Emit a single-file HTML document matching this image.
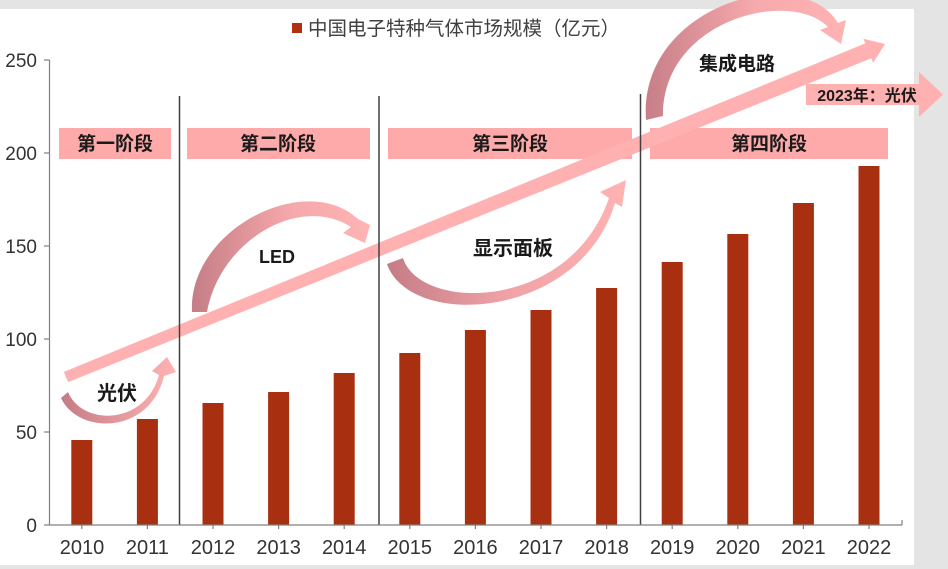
<!DOCTYPE html>
<html><head><meta charset="utf-8"><style>
html,body{margin:0;padding:0;background:#e4e4e4;}
svg{display:block;}
text{font-family:"Liberation Sans","Noto Sans CJK SC",sans-serif;}
</style></head><body>
<svg width="948" height="569" viewBox="0 0 948 569" xmlns="http://www.w3.org/2000/svg">
<defs>
<linearGradient id="g1" x1="60" y1="0" x2="175" y2="0" gradientUnits="userSpaceOnUse"><stop offset="0" stop-color="#c47c85"/><stop offset="1" stop-color="#ffb3b3"/></linearGradient>
<linearGradient id="g2" x1="190" y1="0" x2="370" y2="0" gradientUnits="userSpaceOnUse"><stop offset="0" stop-color="#c47c85"/><stop offset="0.55" stop-color="#f5a8ab"/><stop offset="1" stop-color="#ffb3b3"/></linearGradient>
<linearGradient id="g3" x1="385" y1="0" x2="630" y2="0" gradientUnits="userSpaceOnUse"><stop offset="0" stop-color="#c47c85"/><stop offset="0.5" stop-color="#f0a3a7"/><stop offset="1" stop-color="#ffb3b3"/></linearGradient>
<linearGradient id="g4" x1="640" y1="0" x2="850" y2="0" gradientUnits="userSpaceOnUse"><stop offset="0" stop-color="#c47c85"/><stop offset="0.55" stop-color="#f7aaad"/><stop offset="1" stop-color="#ffb3b3"/></linearGradient>
</defs>
<rect x="0" y="9" width="914" height="556" fill="#ffffff"/>

<!-- legend -->
<rect x="292" y="23" width="10" height="10" fill="#b3300f"/>
<text x="308" y="35" font-size="19.5" fill="#404040">中国电子特种气体市场规模（亿元）</text>

<!-- stage boxes -->
<g fill="#ffaaaa">
<rect x="59" y="128" width="112" height="31"/>
<rect x="187" y="128" width="183" height="31"/>
<rect x="388" y="128" width="244" height="31"/>
<rect x="650" y="128" width="238" height="31"/>
</g>
<g font-size="19" font-weight="bold" fill="#1a1a1a" text-anchor="middle">
<text x="115" y="150">第一阶段</text>
<text x="278" y="150">第二阶段</text>
<text x="510" y="150">第三阶段</text>
<text x="769" y="150">第四阶段</text>
</g>

<!-- bars -->
<g fill="#a83010">
<rect x="71.3" y="440" width="21" height="85"/>
<rect x="136.9" y="419" width="21" height="106"/>
<rect x="202.5" y="403" width="21" height="122"/>
<rect x="268.1" y="392" width="21" height="133"/>
<rect x="333.7" y="373" width="21" height="152"/>
<rect x="399.3" y="353" width="21" height="172"/>
<rect x="464.9" y="330" width="21" height="195"/>
<rect x="530.5" y="310" width="21" height="215"/>
<rect x="596.1" y="288" width="21" height="237"/>
<rect x="661.7" y="262" width="21" height="263"/>
<rect x="727.3" y="234" width="21" height="291"/>
<rect x="792.9" y="203" width="21" height="322"/>
<rect x="858.5" y="166" width="21" height="359"/>
</g>

<!-- main diagonal arrow -->
<polygon points="63.9,371.9 865.3,43.4 863.4,38.8 885,44 873.2,62.8 871.3,58.2 68.1,382.1" fill="#ffb0b0"/>

<!-- curved arrow 1 光伏 -->
<path d="M61,398 C78,435 150,435 164,376 L176,372 L167,357 L152,371 L159,375 C145,426 82,426 68,392 Z" fill="url(#g1)"/>
<!-- curved arrow 2 LED -->
<path d="M192,312 C188,230 305,170 358,219 L370,225 L365,243 L343,233 L351,227 C300,194 220,240 207,312 Z" fill="url(#g2)"/>
<!-- curved arrow 3 显示面板 -->
<path d="M387,264 C410,330 580,320 615,203 L622,207 L626,180 L600,192 L609,198 C570,312 420,312 403,258 Z" fill="url(#g3)"/>
<!-- curved arrow 4 集成电路 -->
<path d="M646,120 C638,5 800,-40 838,23 L846,20 L841,44 L820,30 L828,27 C790,-12 662,20 663,116 Z" fill="url(#g4)"/>
<!-- 2023 arrow -->
<polygon points="806,84 919,84 919,72 943,94.5 919,117 919,105 806,105" fill="#ffb0b0"/>

<!-- arrow texts -->
<g font-weight="bold" fill="#1a1a1a" text-anchor="middle">
<text x="117" y="400" font-size="20">光伏</text>
<text x="277" y="263" font-size="18">LED</text>
<text x="513" y="255" font-size="20">显示面板</text>
<text x="737" y="70" font-size="19">集成电路</text>
<text x="867" y="101" font-size="16">2023年：光伏</text>
</g>

<!-- separators -->
<g stroke="#404040" stroke-width="1.5">
<line x1="179.5" y1="96" x2="179.5" y2="525"/>
<line x1="379" y1="96" x2="379" y2="525"/>
<line x1="640.5" y1="94" x2="640.5" y2="525"/>
</g>

<!-- axes -->
<g stroke="#808080" stroke-width="1.2">
<line x1="49.5" y1="60" x2="49.5" y2="525"/>
<line x1="49" y1="525" x2="902" y2="525"/>
<line x1="44" y1="60" x2="49.5" y2="60"/>
<line x1="44" y1="153" x2="49.5" y2="153"/>
<line x1="44" y1="246" x2="49.5" y2="246"/>
<line x1="44" y1="339" x2="49.5" y2="339"/>
<line x1="44" y1="432" x2="49.5" y2="432"/>
<line x1="44" y1="525" x2="49.5" y2="525"/>
<line x1="902" y1="520" x2="902" y2="525"/>
<line x1="81.8" y1="525" x2="81.8" y2="529"/>
<line x1="147.4" y1="525" x2="147.4" y2="529"/>
<line x1="213" y1="525" x2="213" y2="529"/>
<line x1="278.6" y1="525" x2="278.6" y2="529"/>
<line x1="344.2" y1="525" x2="344.2" y2="529"/>
<line x1="409.8" y1="525" x2="409.8" y2="529"/>
<line x1="475.4" y1="525" x2="475.4" y2="529"/>
<line x1="541" y1="525" x2="541" y2="529"/>
<line x1="606.6" y1="525" x2="606.6" y2="529"/>
<line x1="672.2" y1="525" x2="672.2" y2="529"/>
<line x1="737.8" y1="525" x2="737.8" y2="529"/>
<line x1="803.4" y1="525" x2="803.4" y2="529"/>
<line x1="869" y1="525" x2="869" y2="529"/>
</g>

<g font-size="19" fill="#333" text-anchor="end">
<text x="37" y="67">250</text>
<text x="37" y="160">200</text>
<text x="37" y="253">150</text>
<text x="37" y="346">100</text>
<text x="37" y="439">50</text>
<text x="37" y="532">0</text>
</g>
<g font-size="20" fill="#333" text-anchor="middle">
<text x="82" y="554">2010</text>
<text x="147.4" y="554">2011</text>
<text x="213" y="554">2012</text>
<text x="278.6" y="554">2013</text>
<text x="344.2" y="554">2014</text>
<text x="409.8" y="554">2015</text>
<text x="475.4" y="554">2016</text>
<text x="541" y="554">2017</text>
<text x="606.6" y="554">2018</text>
<text x="672.2" y="554">2019</text>
<text x="737.8" y="554">2020</text>
<text x="803.4" y="554">2021</text>
<text x="869" y="554">2022</text>
</g>
</svg>
</body></html>
